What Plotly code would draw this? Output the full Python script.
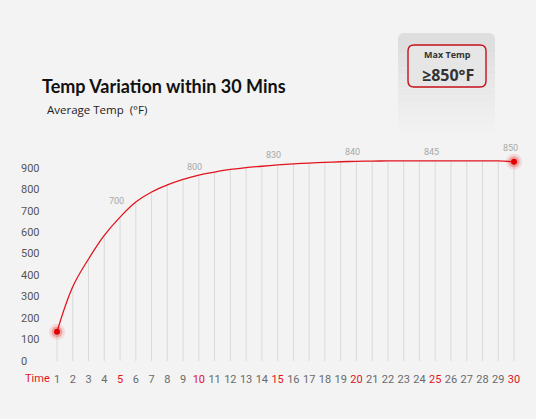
import plotly.graph_objects as go

# minutes 1..30 and the average temperature curve
minutes = list(range(1, 31))
avg_temp = [136, 346, 475, 585, 670, 740, 787, 820, 846, 866,
            880, 892, 901, 907, 913, 918, 922, 925, 928, 930,
            931, 932, 932, 932, 932, 932, 932, 932, 932, 928]

# labels printed above the curve
label_minutes = [5, 10, 15, 20, 25, 30]
label_values = [706, 864, 920, 938, 938, 957]
label_text = ['700', '800', '830', '840', '845', '850']

y_ticks = [0, 100, 200, 300, 400, 500, 600, 700, 800, 900]
highlight_minutes = [5, 10, 15, 20, 25, 30]
end_minutes = [1, 30]

RED = '#e1141e'
BG = '#f3f3f3'
W, H = 536, 419
L, R, T, B = 18, 10, 140, 48
PW, PH = W - L - R, H - T - B


def px(x):
    return (x - L) / PW


def py(y):
    return (H - B - y) / PH


fig = go.Figure()

# vertical grid lines running from 0 up to the curve
gx, gy = [], []
for m, v in zip(minutes, avg_temp):
    gx += [m, m, None]
    gy += [0, v, None]
fig.add_trace(go.Scatter(x=gx, y=gy, mode='lines', line=dict(color='#dadada', width=1),
                         hoverinfo='skip', showlegend=False))

fig.add_trace(go.Scatter(x=minutes, y=avg_temp, mode='lines',
                         line=dict(color=RED, width=1.3, shape='spline', smoothing=1.1),
                         showlegend=False))

end_vals = [avg_temp[minutes.index(m)] for m in end_minutes]
for size, col in [(16, 'rgba(235,0,0,0.10)'), (11, 'rgba(235,0,0,0.25)'), (6, '#e00000')]:
    fig.add_trace(go.Scatter(x=end_minutes, y=end_vals, mode='markers',
                             marker=dict(size=size, color=col, line_width=0),
                             hoverinfo='skip', showlegend=False))

for m, v, t in zip(label_minutes, label_values, label_text):
    fig.add_annotation(x=m, y=v, text=t, showarrow=False, xanchor='center', yanchor='bottom', yshift=1, xshift=-4,
                       font=dict(family='Roboto', size=9, color='#a8a8a8'))

ticktext = [f'<span style="color:{RED}">{m}</span>' if m in highlight_minutes else str(m) for m in minutes]

fig.update_xaxes(range=[-1.475, 30.761], tickvals=minutes, ticktext=ticktext, showgrid=False,
                 zeroline=False, showline=False, ticks='', tickfont=dict(family='Roboto', size=11, color='#6a6a6a'),
                 fixedrange=True)
fig.update_yaxes(range=[-46.6, 1029.3], tickvals=y_ticks, ticklabelposition='inside', showgrid=False,
                 zeroline=False, showline=False, ticks='', tickfont=dict(family='Roboto', size=11, color='#555555'),
                 fixedrange=True)


def note(x, y, text, size, color, family='Open Sans', xanchor='center'):
    fig.add_annotation(xref='paper', yref='paper', x=px(x), y=py(y), text=text, showarrow=False,
                       xanchor=xanchor, yanchor='middle', font=dict(family=family, size=size, color=color))


# "Time" caption in front of the minute labels
note(37, 378, 'Time', 11, RED, family='Roboto')

# grey card behind the max temp badge, faded downward
top, bot, x0, x1 = 33, 138, 398, 495
n = 14
for i in range(n):
    c = int(222 + (243 - 222) * i / (n - 1))
    y_a = top + 6 + (bot - top - 6) * i / n
    y_b = top + 6 + (bot - top - 6) * (i + 1) / n
    fig.add_shape(type='rect', xref='paper', yref='paper', x0=px(x0), x1=px(x1), y0=py(y_b), y1=py(y_a),
                  fillcolor=f'rgb({c},{c},{c})', line_width=0, layer='below')
fig.add_shape(type='path', xref='paper', yref='paper', layer='below', fillcolor='rgb(222,222,222)', line_width=0,
              path=f'M {px(x0)},{py(top + 7)} Q {px(x0)},{py(top)} {px(x0 + 6)},{py(top)} '
                   f'L {px(x1 - 6)},{py(top)} Q {px(x1)},{py(top)} {px(x1)},{py(top + 7)} Z')

# red framed badge
bx0, bx1, by0, by1, r = 408, 486, 45, 87, 6
fig.add_shape(type='path', xref='paper', yref='paper', fillcolor='#e6e6e6', line=dict(color='#c8101a', width=1.4),
              path=f'M {px(bx0 + r)},{py(by0)} L {px(bx1 - r)},{py(by0)} Q {px(bx1)},{py(by0)} {px(bx1)},{py(by0 + r)} '
                   f'L {px(bx1)},{py(by1 - r)} Q {px(bx1)},{py(by1)} {px(bx1 - r)},{py(by1)} '
                   f'L {px(bx0 + r)},{py(by1)} Q {px(bx0)},{py(by1)} {px(bx0)},{py(by1 - r)} '
                   f'L {px(bx0)},{py(by0 + r)} Q {px(bx0)},{py(by0)} {px(bx0 + r)},{py(by0)} Z')
note(447, 55, '<b>Max Temp</b>', 9, '#333333')
note(448, 75, '<b>≥850°F</b>', 16, '#333333')

note(45, 110, 'Average Temp  (°F)', 11.5, '#222222', xanchor='left')

fig.update_layout(
    width=W, height=H,
    margin=dict(l=L, r=R, t=T, b=B),
    paper_bgcolor=BG, plot_bgcolor=BG,
    title=dict(text='<b>Temp Variation within 30 Mins</b>', x=42 / W, xanchor='left', xref='container',
               y=1 - 87 / H, yanchor='middle', yref='container',
               font=dict(family='Lato', size=18, color='#111111')),
    showlegend=False,
)

fig.write_html("out.html", config={'displayModeBar': False},
               post_script="document.body.style.margin='0px';")
